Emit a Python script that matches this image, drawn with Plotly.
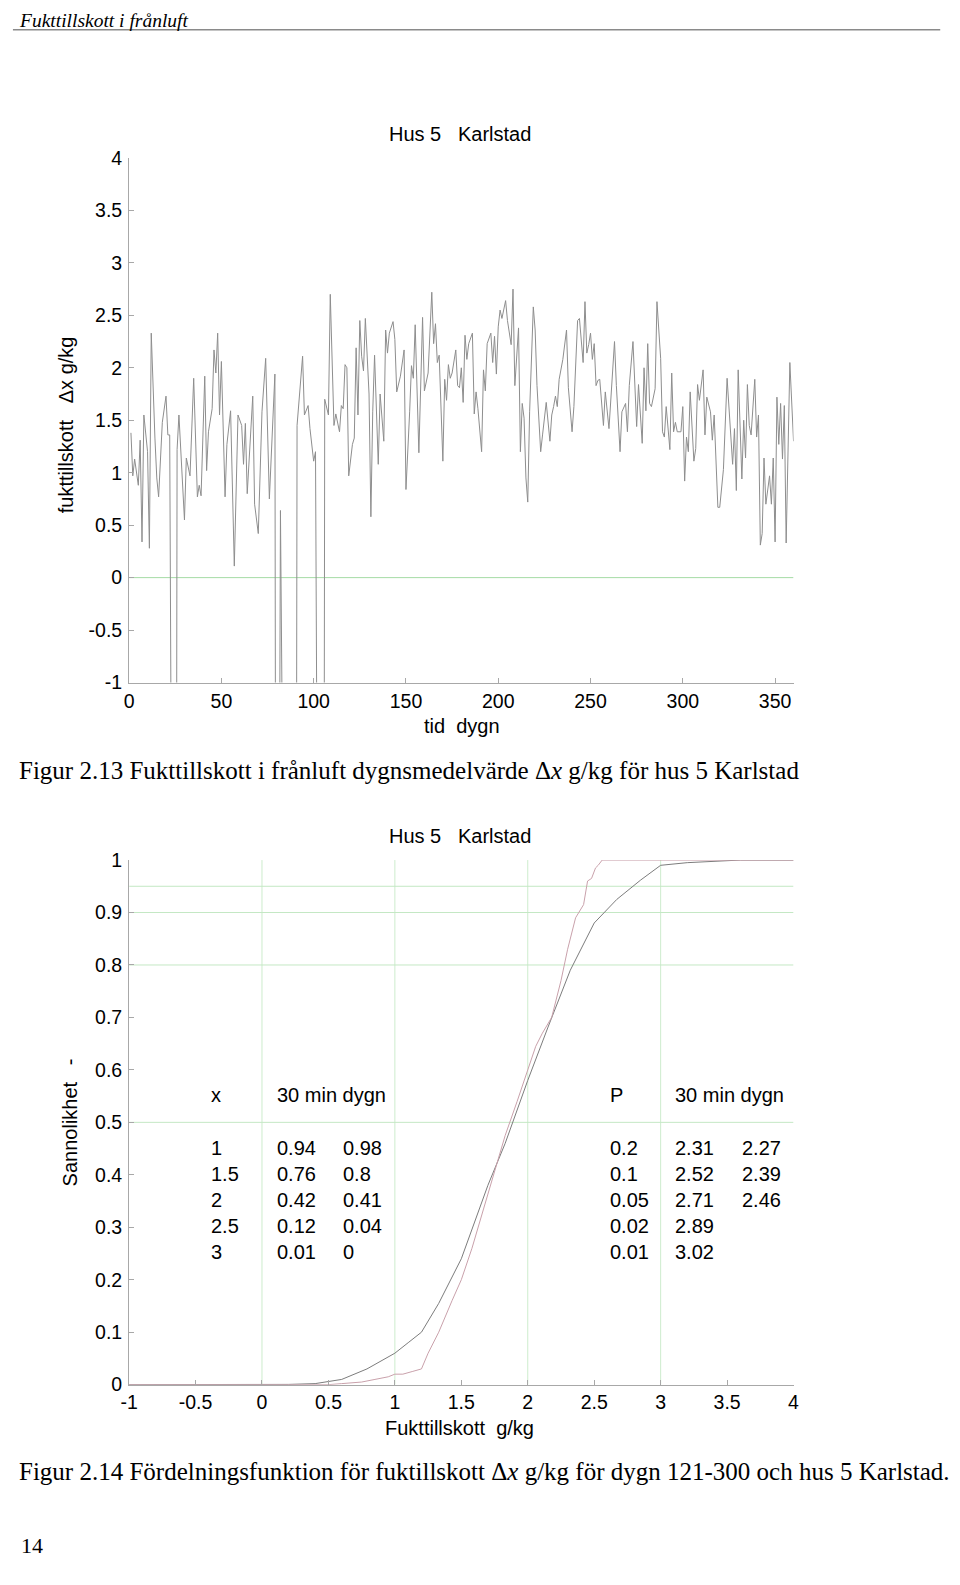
import plotly.graph_objects as go

W, H = 960, 1585


def px(x):
    return x / W


def py(y):
    return 1 - y / H


SANS = "Liberation Sans, Arial, sans-serif"
SERIF = "Liberation Serif, Times New Roman, serif"
NB = "\u00a0"

# ---------------- Figur 2.13: daily mean moisture supply (Δx g/kg) ----------------
# -10 marks the days where the series drops far below the plotted range
days = [1, 2, 3, 4, 5, 6, 7, 8, 10, 11, 12, 14, 15, 16, 18, 20, 21, 22, 23, 24, 25,
        26, 27, 30, 31, 33, 35, 37, 38, 39, 41, 42, 43, 45, 46, 47, 48, 49, 50, 52,
        53, 55, 57, 59, 61, 62, 63, 64, 67, 68, 70, 72, 74, 76, 79, 80, 81, 82,
        83, 84, 85, 86, 87, 88, 89, 90,
        91, 94, 95, 97, 98, 100, 101, 102, 103, 104, 105, 106, 108, 109, 111, 112,
        114, 115, 116, 117, 118, 119, 121, 122, 123, 124, 125, 126, 127, 128, 130,
        131, 132, 133, 135, 136, 138, 139, 140, 141, 143, 144, 145, 147, 149, 150,
        152, 153, 154, 155, 157, 159, 160, 162, 164, 165, 166, 167, 168, 170, 171,
        172, 173, 174, 175, 177, 178, 179,
        180, 181, 182, 183, 184, 186, 187, 188, 189, 191, 192, 193, 194, 196, 197,
        198, 199, 200, 201, 202, 204, 205, 207, 208, 209, 211, 212, 213, 214, 215,
        216, 217, 219, 220, 221, 223, 224, 226, 228, 229, 230, 231, 232, 233, 235,
        237, 238, 240, 241, 243, 244, 245, 246, 247, 248, 249, 250, 251, 252, 253,
        254, 255, 257, 258, 260, 263, 264, 266, 267, 269,
        270, 271, 273, 275, 276, 278, 279, 280, 281, 282, 283, 285, 286, 288, 289,
        290, 291, 293, 294, 295, 296, 297, 299, 300, 301, 302, 303, 304, 306, 307,
        308, 309, 311, 312, 313, 315, 316, 317, 319, 320, 321, 322, 324, 326, 327,
        328, 329, 330, 331, 332, 333, 334, 335, 336, 337, 339, 340, 341, 342, 343,
        344, 345, 347, 348, 349, 350, 351, 352, 353, 354, 355, 356, 358, 359, 360]

dx = [1.38, 0.97, 1.13, 1.02, 0.88, 1.31, 0.34, 1.55, 1.20, 0.28, 2.33, 1.33, 0.95, 0.77,
      1.48, 1.73, 1.36, 1.36, -10, -10, -10,
      1.22, 1.55, 0.55, 1.14, 0.97, 1.90, 0.77, 0.88, 0.78, 1.92, 1.02, 1.39, 1.61, 2.17,
      1.95, 2.33, 1.55, 2.06, 0.77,
      1.27, 1.59, 0.11, 1.55, 1.45, 1.08, 1.47, 0.80, 1.73, 0.70, 0.42, 1.58, 2.09, 0.75,
      1.94, -10, -10, 0.64,
      -10, -10, -10, -10, -10, -10, -10, -10,
      1.45, 2.11, 1.55, 1.64, 1.42, 1.11, 1.20, -10, -10, -10, -10, 1.70, 1.55, 2.70,
      1.45, 1.56,
      1.39, 1.64, 1.61, 2.03, 2.00, 0.97, 1.27, 1.33, 2.19, 1.55, 2.45, 2.11, 1.97, 2.47,
      1.75,
      0.58, 1.58, 2.12, 1.08, 1.75, 1.30, 2.36, 2.14, 2.33, 2.44, 2.27, 1.77, 1.92, 2.17,
      0.84,
      1.58, 2.02, 1.90, 2.41, 1.19, 2.48, 1.78, 1.95, 2.72, 2.23, 2.42, 2.05, 2.12, 1.11,
      1.89,
      1.69, 2.03, 1.90, 1.95, 2.17, 1.83, 1.81,
      2.00, 1.67, 2.31, 2.08, 2.23, 2.33, 1.56, 1.77, 1.61, 1.20, 1.98, 1.78, 2.23, 2.33,
      2.05,
      2.30, 1.94, 2.39, 2.55, 2.47, 2.64, 2.45, 2.22, 2.75, 1.83, 2.38, 1.20, 1.66, 1.52,
      0.95,
      0.72, 1.58, 2.58, 2.36, 1.83, 1.20, 1.36, 1.67, 1.30, 1.55, 1.63, 1.73, 1.63, 1.89,
      2.08,
      2.36, 1.81, 1.39, 1.63, 2.45, 2.47, 2.25, 2.05, 2.63, 2.14, 2.22, 2.33, 2.08, 2.23,
      1.83,
      1.88, 1.89, 1.45, 1.77, 1.42, 2.25, 1.83, 1.20, 1.58, 1.66,
      1.39, 1.83, 2.25, 1.44, 1.84, 1.28, 2.00, 1.59, 2.23, 1.66, 1.63, 1.80, 2.63, 2.09,
      1.39,
      1.34, 1.63, 1.22, 1.95, 1.39, 1.48, 1.39, 1.39, 1.63, 0.92, 1.34, 1.20, 1.77, 1.11,
      1.23,
      1.84, 1.69, 1.98, 1.36, 1.72, 1.58, 1.31, 1.55, 0.67, 0.67, 0.89, 1.03, 1.90, 1.30,
      1.08,
      1.42, 0.83, 1.98, 1.36, 0.94, 1.50, 1.14, 1.84, 1.45, 1.36, 1.89, 1.34, 1.55, 0.31,
      0.42,
      1.14, 0.70, 0.97, 0.70, 1.14, 0.34, 1.72, 1.27, 1.66, 1.13, 1.64, 0.33, 2.05, 1.58,
      1.30]

top_xticks = [0, 50, 100, 150, 200, 250, 300, 350]
top_yticks = [-1, -0.5, 0, 0.5, 1, 1.5, 2, 2.5, 3, 3.5, 4]
top_yticklabels = ["-1", "-0.5", "0", "0.5", "1", "1.5", "2", "2.5", "3", "3.5", "4"]

# ---------------- Figur 2.14: distribution functions ----------------
x_30min = [-1, 0.0, 0.2, 0.4, 0.6, 0.79, 0.9, 1.0, 1.1, 1.2, 1.33, 1.43, 1.5, 1.6,
           1.7, 1.83, 2.0, 2.15, 2.32, 2.5, 2.67, 2.85, 3.0, 3.2, 3.4, 3.6, 4.0]
p_30min = [0, 0, 0.0005, 0.002, 0.01, 0.03, 0.045, 0.06, 0.08, 0.10, 0.155, 0.205,
           0.24, 0.31, 0.38, 0.46, 0.58, 0.68, 0.79, 0.88, 0.925, 0.962, 0.99, 0.995,
           0.998, 1.0, 1.0]

x_dygn = [-1, 0.5, 0.6, 0.75, 0.85, 0.95, 1.0, 1.06, 1.13, 1.2, 1.25, 1.33, 1.43,
          1.5, 1.58, 1.66, 1.75, 1.83, 1.92, 2.0, 2.06, 2.11, 2.18, 2.25, 2.3, 2.36,
          2.42, 2.45, 2.48, 2.51, 2.53, 2.56, 4.0]
p_dygn = [0, 0, 0.002, 0.005, 0.01, 0.015, 0.02, 0.02, 0.025, 0.03, 0.06, 0.10,
          0.16, 0.20, 0.26, 0.33, 0.41, 0.475, 0.54, 0.60, 0.645, 0.67, 0.70, 0.77,
          0.83, 0.89, 0.915, 0.96, 0.965, 0.985, 0.99, 1.0, 1.0]

bot_xticks = [-1, -0.5, 0, 0.5, 1, 1.5, 2, 2.5, 3, 3.5, 4]
bot_xticklabels = ["-1", "-0.5", "0", "0.5", "1", "1.5", "2", "2.5", "3", "3.5", "4"]
bot_yticks = [0, 0.1, 0.2, 0.3, 0.4, 0.5, 0.6, 0.7, 0.8, 0.9, 1]
bot_yticklabels = ["0", "0.1", "0.2", "0.3", "0.4", "0.5", "0.6", "0.7", "0.8", "0.9", "1"]
grid_x = [0, 1, 2, 3]
grid_p = [0.5, 0.8, 0.9, 0.95]
zero_line = [0]

# tables inside the plot
tab_x = ["1", "1.5", "2", "2.5", "3"]
tab_x_30min = ["0.94", "0.76", "0.42", "0.12", "0.01"]
tab_x_dygn = ["0.98", "0.8", "0.41", "0.04", "0"]
tab_p = ["0.2", "0.1", "0.05", "0.02", "0.01"]
tab_p_30min = ["2.31", "2.52", "2.71", "2.89", "3.02"]
tab_p_dygn = ["2.27", "2.39", "2.46", "", ""]

fig = go.Figure()
fig.add_trace(go.Scatter(x=days, y=dx, mode="lines", xaxis="x", yaxis="y",
                         line=dict(color="#8e8e8e", width=1), showlegend=False,
                         hoverinfo="skip"))
fig.add_trace(go.Scatter(x=x_30min, y=p_30min, mode="lines", xaxis="x2", yaxis="y2",
                         line=dict(color="#7c7c7c", width=1), showlegend=False,
                         hoverinfo="skip"))
fig.add_trace(go.Scatter(x=x_dygn, y=p_dygn, mode="lines", xaxis="x2", yaxis="y2",
                         line=dict(color="#c9a1ab", width=1), showlegend=False,
                         hoverinfo="skip"))

AX = "#a8a8a8"
TICK = 19.5
LAB = 20
tickfont = dict(family=SANS, size=TICK, color="black")


def axis(**kw):
    d = dict(showline=True, linecolor=AX, linewidth=1, ticks="inside", ticklen=5,
             tickcolor=AX, showgrid=False, tickfont=tickfont, fixedrange=True,
             zeroline=False)
    d.update(kw)
    return d


fig.update_layout(
    width=W, height=H, margin=dict(l=0, r=0, t=0, b=0),
    paper_bgcolor="white", plot_bgcolor="white",
    xaxis=axis(domain=[px(122), px(797)], range=[0, 360], anchor="y",
               tickvals=top_xticks, ticktext=[str(v) for v in top_xticks],
               ticklabelstandoff=1),
    yaxis=axis(domain=[py(681), py(149)], range=[-1, 4], anchor="x",
               tickvals=top_yticks, ticktext=top_yticklabels,
               ticklabelstandoff=2),
    xaxis2=axis(domain=[px(122), px(797)], range=[-1, 4], anchor="y2",
                tickvals=bot_xticks, ticktext=bot_xticklabels,
                ticklabelstandoff=0),
    yaxis2=axis(domain=[py(1393), py(861)], range=[0, 1], anchor="x2",
                tickvals=bot_yticks, ticktext=bot_yticklabels,
                ticklabelstandoff=2),
)

shapes = []
for z in zero_line:
    shapes.append(dict(type="line", xref="x", yref="y", x0=0, x1=360, y0=z, y1=z,
                       line=dict(color="#a6dca6", width=1), layer="below"))
for g in grid_x:
    shapes.append(dict(type="line", xref="x2", yref="y2", x0=g, x1=g, y0=0, y1=1,
                       line=dict(color="#cdeccd", width=1), layer="below"))
for g in grid_p:
    shapes.append(dict(type="line", xref="x2", yref="y2", x0=-1, x1=4, y0=g, y1=g,
                       line=dict(color="#c4e8c4", width=1), layer="below"))
# header rule of the document page
shapes.append(dict(type="line", xref="paper", yref="paper", x0=px(4), x1=px(946),
                   y0=py(19), y1=py(19), line=dict(color="#8a8a8a", width=1.5)))
fig.update_layout(shapes=shapes)

ann = []


def text(x, y, s, size=LAB, family=SANS, xanchor="center", angle=0, color="black"):
    ann.append(dict(x=px(x), y=py(y), xref="paper", yref="paper", text=s,
                    showarrow=False, xanchor=xanchor, yanchor="middle",
                    textangle=angle, font=dict(family=family, size=size, color=color)))


text(8, 10, "<i>Fukttillskott i frånluft</i>", size=19.5, family=SERIF, xanchor="left")
text(458, 125, "Hus 5" + NB * 3 + "Karlstad")
text(460, 725, "tid" + NB * 2 + "dygn")
text(58, 420, "fukttillskott" + NB * 3 + "Δx g/kg", angle=-90)
text(8, 770, "Figur 2.13 Fukttillskott i frånluft dygnsmedelvärde Δ<i>x</i> g/kg för hus 5 Karlstad",
     size=25, family=SERIF, xanchor="left")
text(458, 837, "Hus 5" + NB * 3 + "Karlstad")
text(458, 1437, "Fukttillskott" + NB * 2 + "g/kg")
text(62, 1127, "Sannolikhet" + NB * 3 + "-", angle=-90)
text(8, 1481, "Figur 2.14 Fördelningsfunktion för fuktillskott Δ<i>x</i> g/kg för dygn 121-300 och hus 5 Karlstad.",
     size=25, family=SERIF, xanchor="left")
text(10, 1556, "14", size=22, family=SERIF, xanchor="left")


# tables in data coordinates of the lower chart
def dtext(x, y, s):
    ann.append(dict(x=x, y=y, xref="x2", yref="y2", text=s, showarrow=False,
                    xanchor="left", yanchor="middle",
                    font=dict(family=SANS, size=LAB, color="black")))


col_l = [-0.4, 0.096, 0.593]
col_r = [2.6, 3.096, 3.6]
row_head = 0.553
rows = [0.451, 0.401, 0.352, 0.302, 0.252]
dtext(col_l[0], row_head, "x")
dtext(col_l[1], row_head, "30 min dygn")
dtext(col_r[0], row_head, "P")
dtext(col_r[1], row_head, "30 min dygn")
for i, r in enumerate(rows):
    dtext(col_l[0], r, tab_x[i])
    dtext(col_l[1], r, tab_x_30min[i])
    dtext(col_l[2], r, tab_x_dygn[i])
    dtext(col_r[0], r, tab_p[i])
    dtext(col_r[1], r, tab_p_30min[i])
    if tab_p_dygn[i]:
        dtext(col_r[2], r, tab_p_dygn[i])

fig.update_layout(annotations=ann)
fig.write_html(
    "out.html",
    post_script="document.body.style.margin='0';document.body.style.padding='0';",
    config={"displayModeBar": False},
)
